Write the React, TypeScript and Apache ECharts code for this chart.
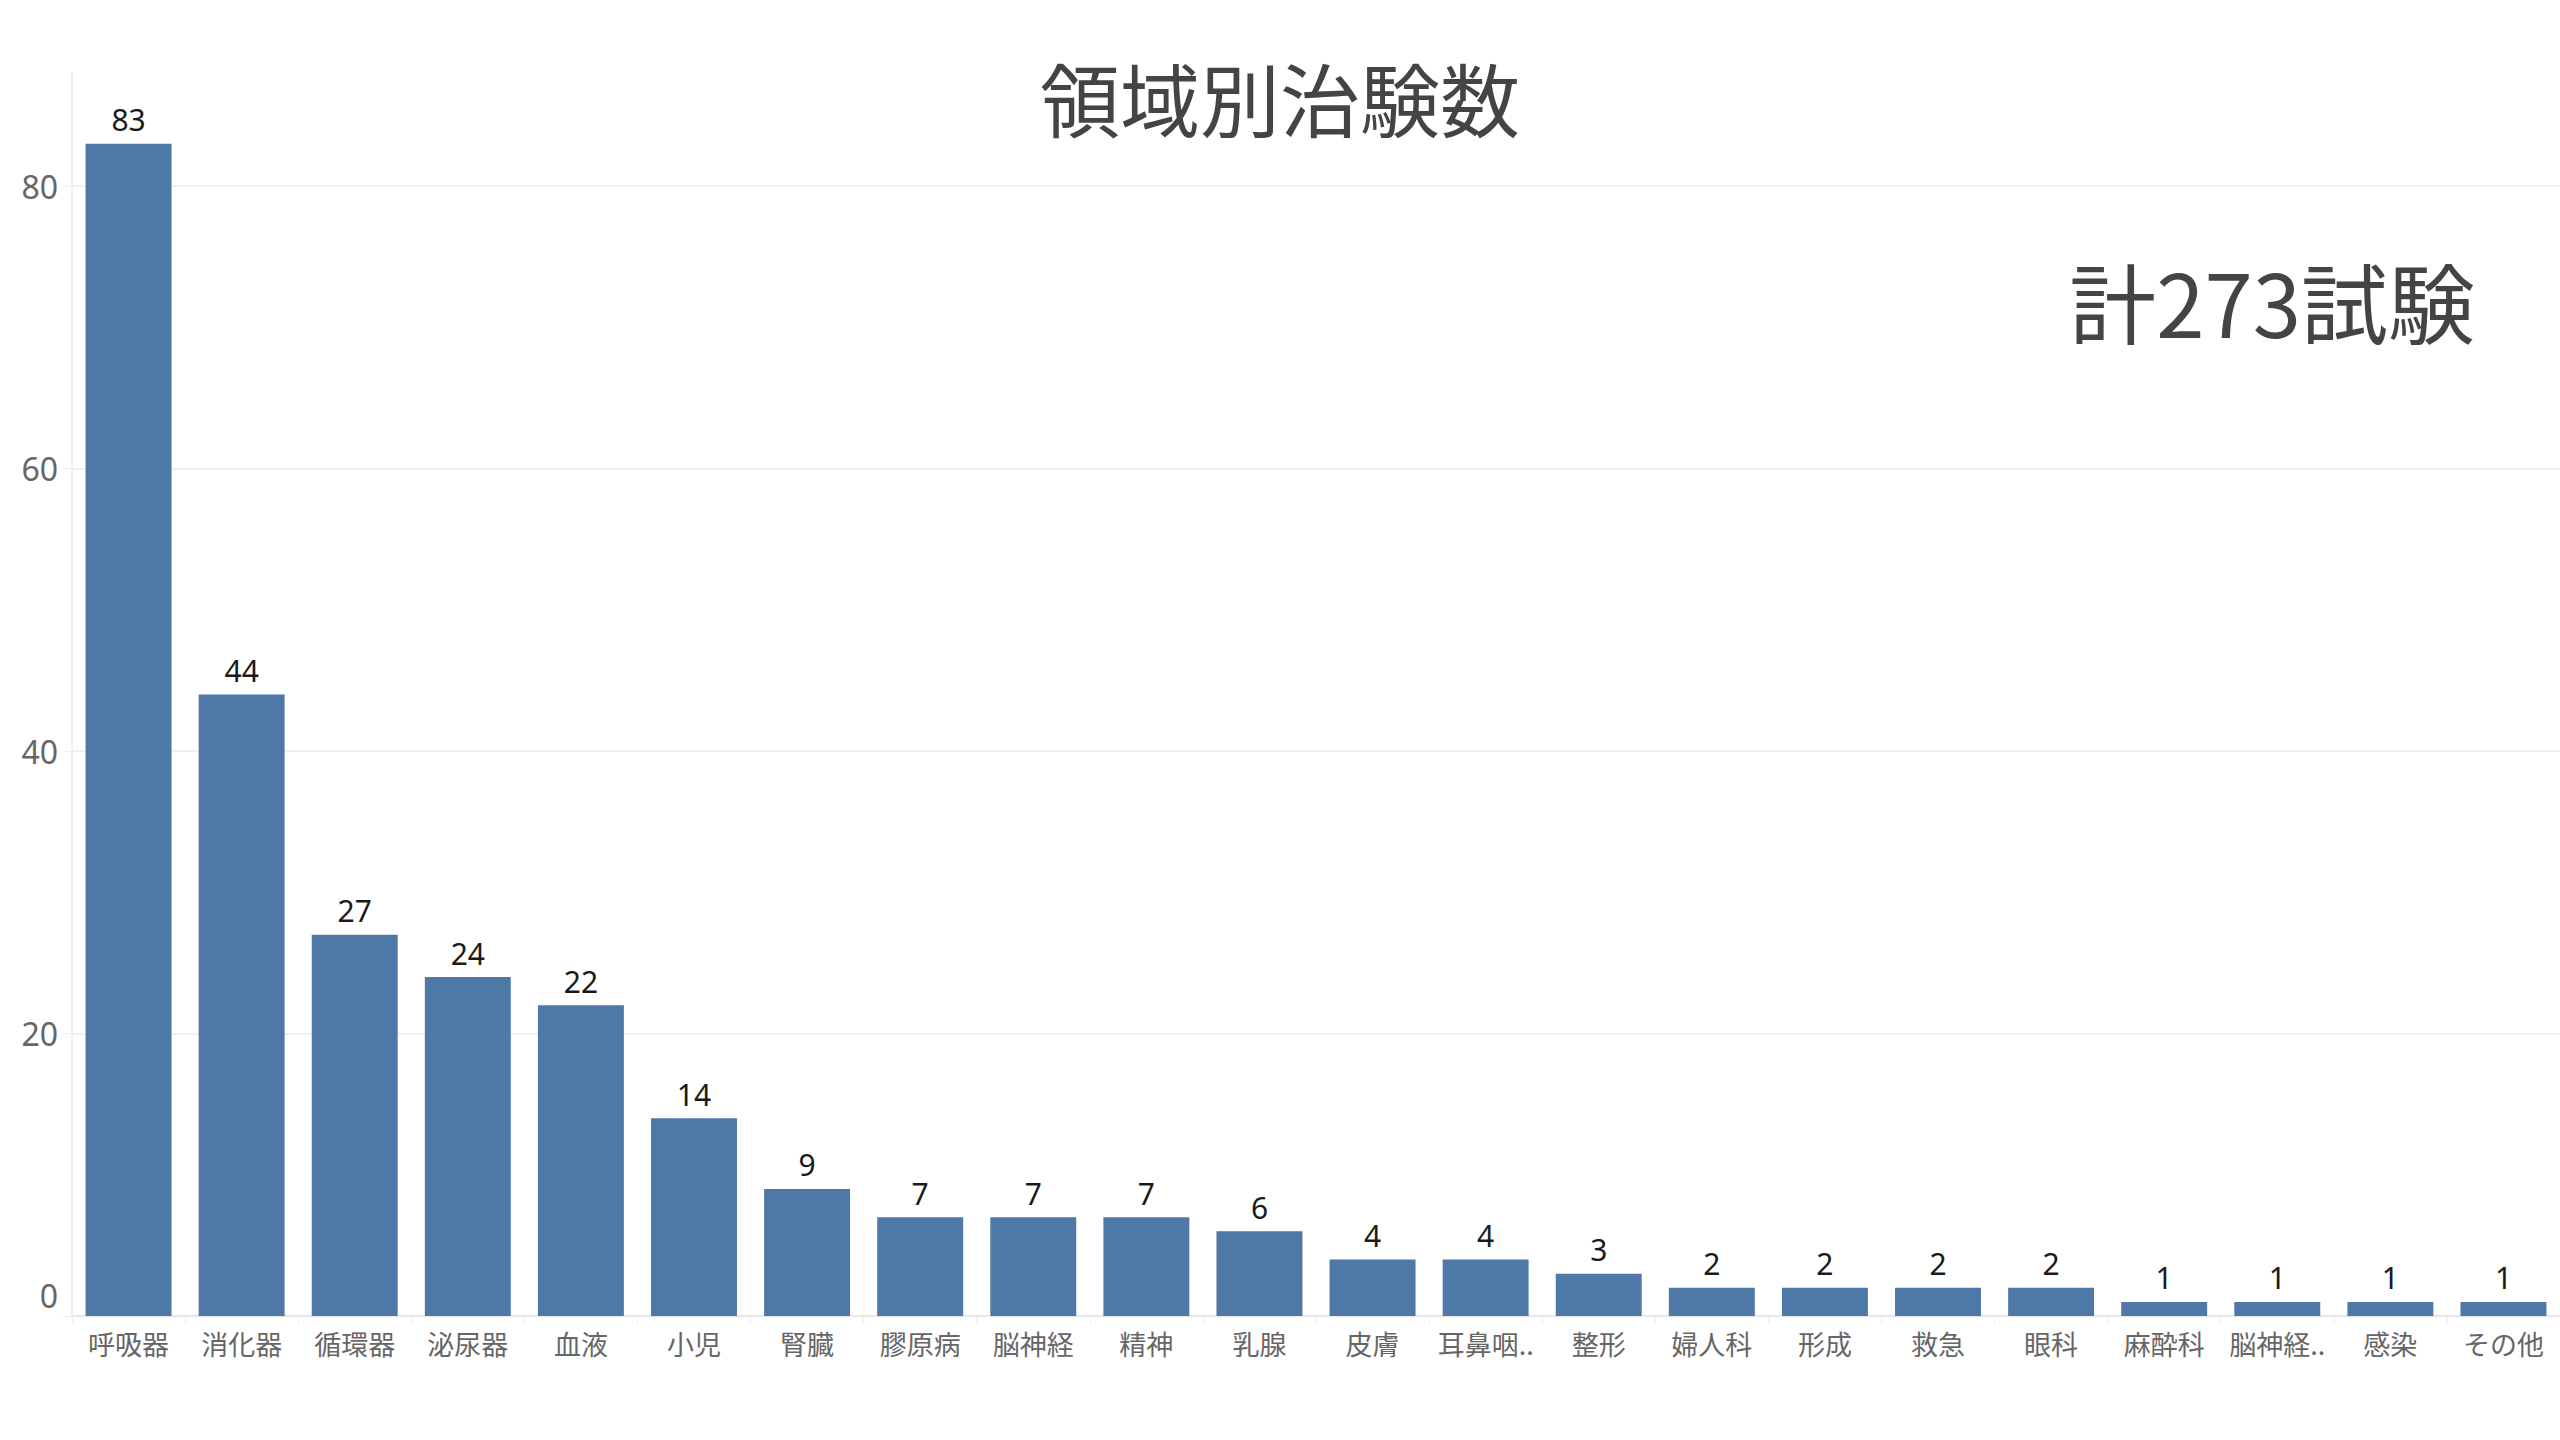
import { useEffect, useRef } from "react";
import * as echarts from "echarts";

const categories = [
  "呼吸器", "消化器", "循環器", "泌尿器", "血液", "小児", "腎臓", "膠原病",
  "脳神経", "精神", "乳腺", "皮膚", "耳鼻咽..", "整形", "婦人科", "形成",
  "救急", "眼科", "麻酔科", "脳神経..", "感染", "その他",
];
const trialCounts = [83, 44, 27, 24, 22, 14, 9, 7, 7, 7, 6, 4, 4, 3, 2, 2, 2, 2, 1, 1, 1, 1];
const yTicks = [0, 20, 40, 60, 80];

const titleText = "領域別治験数";
const total = trialCounts.reduce((a, b) => a + b, 0);

const cjkFont = "'Noto Sans CJK JP', 'Noto Sans', sans-serif";
const numFont = "'Noto Sans', 'Noto Sans CJK JP', sans-serif";

const App = () => {
  const chartRef = useRef<HTMLDivElement | null>(null);

  useEffect(() => {
    if (!chartRef.current) {
      return;
    }
    const instance = echarts.init(chartRef.current, undefined, {
      renderer: "svg",
    });

    const option: echarts.EChartsOption = {
      animation: false,
      backgroundColor: "#ffffff",
      title: {
        text: titleText,
        left: "center",
        top: 48,
        textStyle: {
          fontFamily: cjkFont,
          fontSize: 80,
          fontWeight: "normal",
          color: "#444444",
          lineHeight: 86,
        },
      },
      graphic: [
        {
          type: "text",
          right: 85,
          top: 256,
          style: {
            text: `計${total}試験`,
            fontFamily: cjkFont,
            fontSize: 87,
            fill: "#444444",
          },
        },
      ],
      grid: {
        left: 72,
        right: 0,
        top: 73,
        bottom: 124,
        containLabel: false,
      },
      xAxis: {
        type: "category",
        data: categories,
        axisLine: { lineStyle: { color: "#e6e6e6", width: 2 } },
        axisTick: { show: true, length: 7, lineStyle: { color: "#ececec" } },
        axisLabel: {
          color: "#666666",
          fontFamily: cjkFont,
          fontSize: 27,
          margin: 14,
          interval: 0,
        },
      },
      yAxis: {
        type: "value",
        min: 0,
        max: 88,
        interval: 20,
        axisLine: { show: true, lineStyle: { color: "#f0f0f0", width: 2 } },
        axisTick: {
          show: true,
          length: 9,
          lineStyle: { color: "#f0f0f0" },
          customValues: yTicks,
        },
        axisLabel: {
          color: "#666666",
          fontFamily: numFont,
          fontSize: 32,
          margin: 14,
          customValues: yTicks,
          formatter: (v: number) => (v === 0 ? "{z|0}" : String(v)),
          rich: {
            z: {
              fontFamily: numFont,
              fontSize: 32,
              color: "#666666",
              padding: [0, 0, 42, 0],
            },
          },
        },
        splitLine: {
          show: true,
          showMinLine: false,
          lineStyle: { color: "#f0f0f0", width: 2 },
        },
      },
      series: [
        {
          type: "bar",
          data: trialCounts,
          barWidth: "76%",
          itemStyle: { color: "#4e79a7" },
          label: {
            show: true,
            position: "top",
            distance: 9,
            color: "#1a1a1a",
            fontFamily: numFont,
            fontSize: 30,
          },
        },
      ],
    };

    instance.setOption(option);

    return () => {
      instance.dispose();
    };
  }, []);

  return (
    <div
      ref={chartRef}
      style={{
        position: "fixed",
        left: 0,
        top: 0,
        width: 2560,
        height: 1440,
        background: "#ffffff",
      }}
    />
  );
};

export default App;
